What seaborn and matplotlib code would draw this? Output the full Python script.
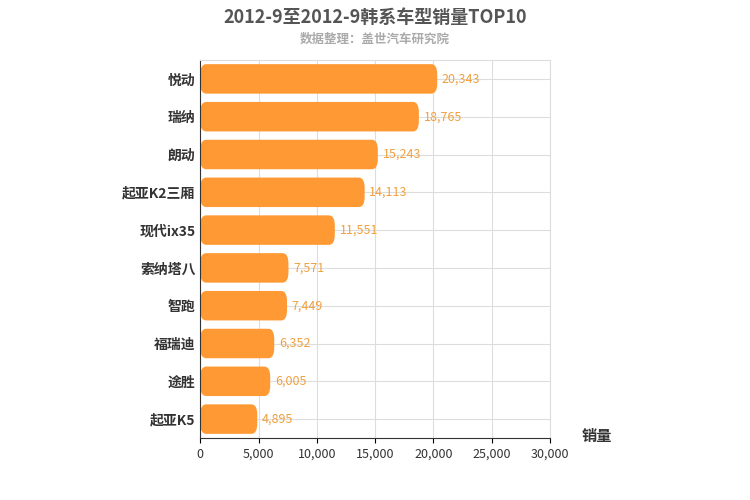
import matplotlib
matplotlib.use("Agg")
import matplotlib.pyplot as plt
import seaborn as sns
import pandas as pd
from matplotlib.patches import FancyBboxPatch

models = ["悦动", "瑞纳", "朗动", "起亚K2三厢", "现代ix35", "索纳塔八", "智跑", "福瑞迪", "途胜", "起亚K5"]
sales = [20343, 18765, 15243, 14113, 11551, 7571, 7449, 6352, 6005, 4895]
xticks = [0, 5000, 10000, 15000, 20000, 25000, 30000]

plt.rcParams["font.family"] = "Noto Sans CJK SC"
df = pd.DataFrame({"model": models, "sales": sales})

fig = plt.figure(figsize=(7.5, 5), dpi=100)
ax = fig.add_axes([0.267, 0.124, 0.466, 0.756])
sns.barplot(data=df, x="sales", y="model", color="#FF9933", width=0.78, ax=ax, zorder=2)

# swap plain bars for rounded ones
for p in list(ax.patches):
    x, y, w, h = p.get_x(), p.get_y(), p.get_width(), p.get_height()
    p.remove()
    ax.add_patch(FancyBboxPatch((x, y), w, h, boxstyle="round,pad=0,rounding_size=500",
                                mutation_aspect=h / 500 * 0.35, fc="#FF9933", ec="none", zorder=2))

for i, v in enumerate(sales):
    ax.text(v + 400, i, f"{v:,}", va="center", ha="left", fontsize=9, color="#F0A040")

ax.set_xlim(0, 30000)
ax.set_xticks(xticks)
ax.set_xticklabels([f"{t:,}" for t in xticks], fontsize=9, color="#333333")
ax.set_ylim(9.5, -0.5)
ax.tick_params(axis="y", labelsize=10, length=0)
for lab in ax.get_yticklabels():
    lab.set_fontweight("bold")
    lab.set_color("#333333")
ax.set_xlabel("")
ax.set_ylabel("")
ax.grid(True, color="#DDDDDD", linewidth=0.8, zorder=0)
ax.set_axisbelow(True)
for s in ["top", "right"]:
    ax.spines[s].set_color("#DDDDDD")
ax.spines["left"].set_color("#333333")
ax.spines["bottom"].set_color("#333333")

fig.text(0.775, 0.118, "销量", fontsize=11, fontweight="bold", color="#333333", ha="left")
fig.text(0.5, 0.955, "2012-9至2012-9韩系车型销量TOP10", fontsize=13, fontweight="bold",
         color="#555555", ha="center")
fig.text(0.5, 0.915, "数据整理：盖世汽车研究院", fontsize=9, fontweight="bold", color="#AAAAAA", ha="center")

fig.savefig("out.png", dpi=100)
